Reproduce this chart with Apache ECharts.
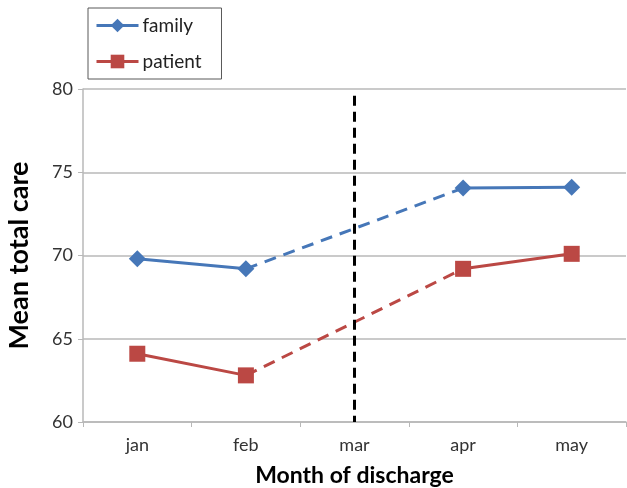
<!DOCTYPE html>
<html>
<head>
<meta charset="utf-8">
<script src="https://cdn.jsdelivr.net/npm/echarts@6/dist/echarts.min.js"></script>
<style>
  html, body { margin: 0; padding: 0; background: #fff; }
  #chart { width: 627px; height: 488px; }
</style>
</head>
<body>
<div id="chart"></div>
<script>
const months  = ['jan', 'feb', 'mar', 'apr', 'may'];
const family  = [69.8, 69.2, null, 74.05, 74.1];
const patient = [64.1, 62.8, null, 69.2, 70.1];
// dashed bridge across the missing month
const familyGap  = [null, 69.2, null, 74.05, null];
const patientGap = [null, 62.8, null, 69.2, null];
const yTicks = { min: 60, max: 80, step: 5 };

const BLUE = '#4677b8';
const RED  = '#bb4844';
const GRID = '#b8b8b8';
const FONT = 'Lato, "Open Sans", sans-serif';

const chart = echarts.init(document.getElementById('chart'), null, { renderer: 'canvas' });

chart.setOption({
  animation: false,
  textStyle: { fontFamily: FONT },
  grid: { left: 83, right: 1, top: 89, bottom: 66, outerBoundsMode: 'none' },
  legend: {
    data: [
      { name: 'family',  lineStyle: { width: 3 } },
      { name: 'patient', lineStyle: { width: 3 } }
    ],
    orient: 'vertical',
    left: 88, top: 8,
    padding: [8, 20, 8, 7],
    itemGap: 17,
    itemWidth: 42, itemHeight: 17,
    borderColor: '#595959', borderWidth: 1,
    textStyle: { fontSize: 19, color: '#222', fontFamily: FONT, padding: [0, 0, 0, -1] }
  },
  xAxis: {
    type: 'category',
    data: months,
    boundaryGap: true,
    name: 'Month of discharge',
    nameLocation: 'middle',
    nameGap: 42,
    nameTextStyle: { fontSize: 23, fontWeight: 'bold', color: '#000', fontFamily: FONT },
    axisLine: { lineStyle: { color: GRID, width: 1.5 } },
    axisTick: { show: true, length: 5, lineStyle: { color: GRID } },
    axisLabel: { fontSize: 18, color: '#333', margin: 14 }
  },
  yAxis: {
    type: 'value',
    min: yTicks.min, max: yTicks.max, interval: yTicks.step,
    name: 'Mean total care',
    nameLocation: 'middle',
    nameGap: 50,
    nameTextStyle: { fontSize: 27, fontWeight: 'bold', color: '#000', fontFamily: FONT },
    axisLine: { show: true, lineStyle: { color: GRID, width: 1.5 } },
    axisTick: { show: true, length: 5, lineStyle: { color: GRID } },
    splitLine: { lineStyle: { color: GRID, width: 1.5 } },
    axisLabel: { fontSize: 18, color: '#333', margin: 10 }
  },
  series: [
    {
      name: 'family', type: 'line', data: family,
      symbol: 'diamond', symbolSize: 17,
      itemStyle: { color: BLUE },
      lineStyle: { color: BLUE, width: 3 },
      z: 3
    },
    {
      name: 'patient', type: 'line', data: patient,
      symbol: 'rect', symbolSize: 16,
      itemStyle: { color: RED },
      lineStyle: { color: RED, width: 3 },
      z: 3,
      markLine: {
        silent: true,
        symbol: 'none',
        label: { show: false },
        lineStyle: { color: '#000', type: [10, 6], width: 3 },
        data: [[{ coord: ['mar', 79.6] }, { coord: ['mar', 60] }]]
      }
    },
    {
      name: 'familyGap', type: 'line', data: familyGap, connectNulls: true,
      showSymbol: false, symbol: 'none',
      lineStyle: { color: BLUE, width: 3, type: [12, 8] }, z: 2
    },
    {
      name: 'patientGap', type: 'line', data: patientGap, connectNulls: true,
      showSymbol: false, symbol: 'none',
      lineStyle: { color: RED, width: 3, type: [12, 8] }, z: 2
    }
  ]
});
</script>
</body>
</html>
